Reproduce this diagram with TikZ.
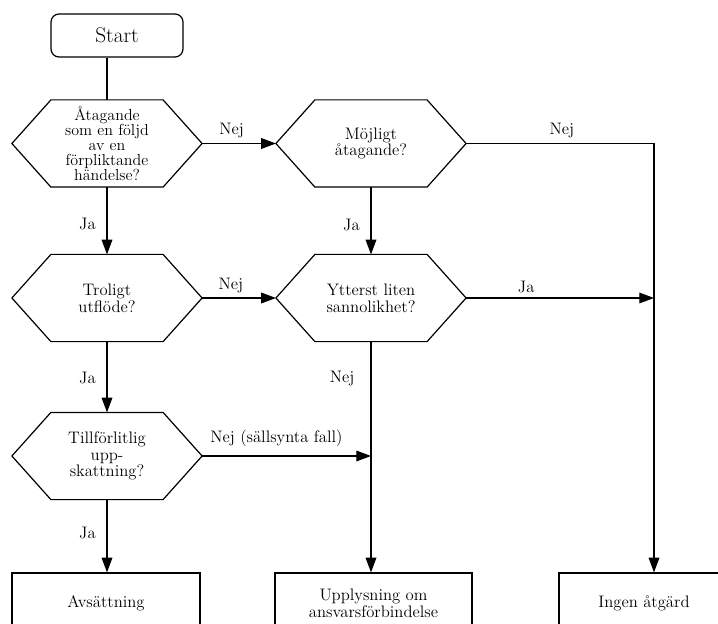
\documentclass[tikz,border=0pt]{standalone}
\usepackage{tikz}
\usetikzlibrary{arrows.meta, positioning}

\begin{document}
\begin{tikzpicture}
		[x=0.75pt, y=-0.75pt,
		line width=0.9pt,
		>={Triangle[length=11pt, width=8pt]},
		every node/.style = {font=\fontsize{12.5}{12.5}\selectfont},
		st/.style = {draw=black, rectangle, rounded corners=6pt, minimum width=99pt, minimum height=32.25pt, font=\fontsize{16}{16}\selectfont},
		hexa/.style = {align=center, inner sep=0pt, minimum width=141.75pt, minimum height=64.5pt,
			append after command={\pgfextra{\draw[line join=miter]
				(\tikzlastnode.west) -- ([xshift=29.25pt]\tikzlastnode.north west)
				-- ([xshift=-29.25pt]\tikzlastnode.north east) -- (\tikzlastnode.east)
				-- ([xshift=-29.25pt]\tikzlastnode.south east)
				-- ([xshift=29.25pt]\tikzlastnode.south west) -- cycle;}}},
		res/.style = {draw=black, rectangle, align=center, minimum height=45pt},
		lbl/.style = {inner sep=2pt}]
		
		\useasboundingbox (0,0) rectangle (718,624);
		\clip (0,0) rectangle (718,624);
		
		\node[st] (start) at (117,35.5) {Start};
		\node[hexa, font=\fontsize{12}{11.2}\selectfont] (q1) at (107,143.5) {Åtagande\\som en följd\\av en\\förpliktande\\händelse?};
		\foreach \x/\y/\alph/\name in {
			371/143.5/q2/{Möjligt\\åtagande?},
			107/298/q3/{Troligt\\utflöde?},
			371/298/q4/{Ytterst liten\\sannolikhet?},
			107/456/q5/{Tillförlitlig\\upp-\\skattning?}}{
			\node[hexa] (\alph) at (\x,\y) {\name};
		}
		\foreach \x/\w/\alph/\name in {
			106/141/r1/{Avsättning},
			373.5/147.75/r2/{Upplysning om\\ansvarsförbindelse},
			644/127.5/r3/{Ingen åtgärd}}{
			\node[res, minimum width=\w pt] (\alph) at (\x,603) {\name};
		}
		\coordinate (c1) at (654,143.5);
		
		\draw (q1.north |- start.south) -- (q1.north);
		\draw[->] (q1.east) -- node[lbl, above=1.5pt, pos=0.4] {Nej} (q2.west);
		\draw[->] (q2.east) -- node[lbl, above=1.5pt, pos=0.51] {Nej} (c1) -- (c1 |- r3.north);
		\draw[->] (q1.south) -- node[lbl, left=6pt, pos=0.55] {Ja} (q3.north);
		\draw[->] (q2.south) -- node[lbl, left=6pt, pos=0.56] {Ja} (q4.north);
		\draw[->] (q3.east) -- node[lbl, above=1.5pt, pos=0.39] {Nej} (q4.west);
		\draw[->] (q4.east) -- node[lbl, above=1.5pt, pos=0.32] {Ja} (c1 |- q4.east);
		\draw[->] (q3.south) -- node[lbl, left=6pt, pos=0.51] {Ja} (q5.north);
		\draw[->] (q4.south) -- node[lbl, left=10pt, pos=0.16] {Nej} (q4.south |- r2.north);
		\draw[->] (q5.east) -- node[lbl, above=4.5pt, pos=0.44] {Nej (sällsynta fall)} (q4.south |- q5.east);
		\draw[->] (q5.south) -- node[lbl, left=6pt, pos=0.46] {Ja} (q5.south |- r1.north);
	\end{tikzpicture}
\end{document}
